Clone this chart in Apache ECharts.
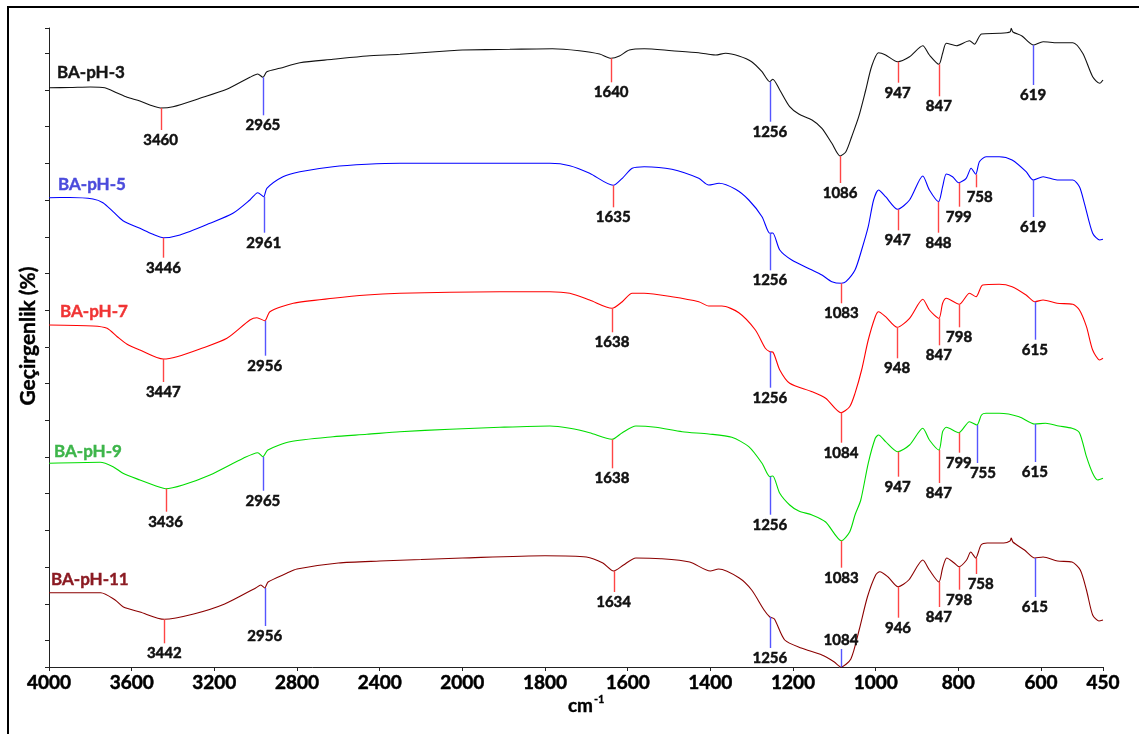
<!DOCTYPE html>
<html>
<head>
<meta charset="utf-8">
<title>FTIR – BA pH serisi</title>
<script src="https://cdn.jsdelivr.net/npm/echarts@6/dist/echarts.min.js"></script>
<style>
  html, body { margin: 0; padding: 0; background: #fff; }
  #chart { width: 1139px; height: 734px; }
</style>
</head>
<body>
<div id="chart"></div>
<script>
// ---------------------------------------------------------------------------
// Data: wavenumber (cm-1) and stacked transmittance (arbitrary offset units)
// ---------------------------------------------------------------------------
const xTickValues = [4000, 3600, 3200, 2800, 2400, 2000, 1800, 1600, 1400, 1200, 1000, 800, 600, 450];

const wn_pH3 = [4000,3900,3800,3730,3670,3622,3560,3512,3460,3400,3270,3140,3028,2990,2965,2946,2883,2786,2626,2462,
  2302,2060,2000,1885,1782,1717,1668,1640,1620,1596,1560,1493,1428,1400,1387,1363,1331,1300,1275,1256,
  1249,1232,1208,1186,1154,1130,1106,1086,1072,1058,1041,1024,1010,993,976,947,918,886,870,847,
  838,829,805,773,761,744,701,675,672,668,646,619,595,561,523,499,475,458,450];
const tr_pH3 = [579.3,579.5,580,579.3,574,569.7,566,562,559,560.3,568.7,577.7,589.7,593,589.7,595.3,598.7,604.3,607.7,611,
  612.7,616.3,617,617.7,618.3,616.3,613,608.7,611,617,618.3,616.3,614.3,612.5,612,613.7,611,605.3,595.3,585.3,
  587.7,577,560.3,553,547,538.7,523.7,511,515.3,530.3,550.3,577,600.3,614.3,612,605.3,610.3,621.3,612,602.7,
  613.7,623.7,621.3,626.3,622.7,633,633.7,635,638.7,635,631,622,625.3,624.3,624.3,613.7,590.3,583.7,587];

const wn_pH5 = [4000,3900,3787,3739,3690,3642,3560,3500,3446,3366,3221,3110,3028,2990,2961,2946,2868,2786,2626,2462,
  2302,2000,1788,1740,1692,1635,1613,1589,1560,1493,1428,1404,1379,1339,1307,1275,1256,1249,1232,1203,
  1154,1130,1106,1083,1072,1050,1034,1018,1005,993,976,947,918,886,870,848,838,829,814,799,
  781,769,758,749,733,701,670,636,619,595,561,523,507,495,475,458,450];
const tr_pH5 = [469.3,469.5,468,464.3,455.3,446.3,438.7,433,429.3,432,443.7,453.7,467,474.3,470.3,478.7,490.3,495.3,500.3,502.7,
  503.7,503.7,503.7,501.3,493.7,481.7,488.7,498.7,500.3,497.7,488.7,482,483.7,477.7,467,450.3,433.7,434,417,407,
  397,392,385.3,383.7,385.3,397,417,440.3,467,477,470.3,457.7,467,491,477,465.3,480.3,493,490.3,484.3,
  488.7,498.7,492.7,505.3,510.3,510.3,507,495.3,487,490.3,487,487,480.3,463.7,433.7,427,427.7];

const wn_pH7 = [4000,3787,3719,3670,3622,3560,3447,3381,3270,3139,3028,2994,2956,2931,2818,2626,2462,2302,2060,1909,
  1788,1740,1692,1638,1613,1589,1560,1493,1428,1404,1372,1331,1291,1267,1256,1249,1232,1208,1154,1121,
  1084,1063,1050,1034,1018,1001,993,976,948,918,886,870,847,838,829,798,773,757,741,701,
  670,636,615,595,561,523,507,490,475,458,450];
const tr_pH7 = [342,341,338.7,330.3,322.7,317,308,310.3,318,328.7,347,349.3,346.3,355.3,363.7,368.7,372,373.7,374.7,375.3,
  375.3,373.7,367,358.7,365.3,373.7,373.7,370.3,365.3,361,361,354.3,337,318.7,315.3,315,297,283.7,275.3,268.7,
  254.3,260.3,273.7,297,327,350.3,355.3,350.3,339.7,348.7,367.7,357,348.7,363.7,368.7,362.7,373.7,370.3,382,382.7,
  380.3,372,365.3,367,363.7,362.7,357,340.3,317,307,308.7];

const wn_pH9 = [4000,3753,3690,3642,3560,3463,3436,3352,3221,3060,2990,2965,2941,2834,2626,2462,2302,2060,1909,1788,
  1740,1692,1638,1613,1580,1532,1468,1404,1348,1307,1275,1256,1249,1232,1208,1186,1154,1121,1083,1063,
  1050,1036,1018,1001,993,976,947,918,886,870,847,838,829,799,773,755,744,733,701,653,
  615,589,557,525,507,490,475,463,450];
const tr_pH9 = [203.7,204.7,200.3,193.7,187,179.7,178.3,182,192,208.7,214.3,210.3,217,225.3,230.3,232.7,235.3,237.7,239.7,241,
  238.7,234.3,227.7,234.3,241,239.7,235.3,233,229.7,220.3,203.7,190.3,191,173.7,162,156,152,145,126.3,135,
  152,167,203.7,228.7,232,225.3,215.3,222,238.7,227,217,235.3,239.7,234.3,245.3,242,252,253.7,253.7,250.3,
  243,243.7,241,238.7,234.3,210.3,193.7,187,188.7];

const wn_pH11 = [4000,3750,3680,3640,3560,3442,3300,3150,3000,2975,2956,2940,2850,2800,2600,2400,2200,2000,1800,1700,
  1660,1634,1610,1580,1520,1450,1400,1380,1330,1300,1270,1256,1245,1220,1180,1130,1100,1084,1060,1040,
  1020,1000,990,970,946,920,886,870,847,838,828,810,798,780,770,758,745,730,690,675,
  672,668,640,615,595,560,525,505,490,475,460,450];
const tr_pH11 = [74.3,74.3,67,60,55,47.7,53,63,79,82,79,85,93.7,98,104,106,107.5,109,111.3,110,
  104,96,102,109,108.3,105,96,98,89,77,57,50,48,27,19,12,5,0,8,37,
  70,92,95.3,90,80.3,87,107,97,85,99,109,104,100.3,107,115,109,122,124,124,126,
  129,125,117,109,110,106,105,97,77,52,46,47];

// Labelled band positions (cm-1) for each spectrum
const peaks_pH3  = [3460, 2965, 1640, 1256, 1086, 947, 847, 619];
const peaks_pH5  = [3446, 2961, 1635, 1256, 1083, 947, 848, 799, 758, 619];
const peaks_pH7  = [3447, 2956, 1638, 1256, 1084, 948, 847, 798, 615];
const peaks_pH9  = [3436, 2965, 1638, 1256, 1083, 947, 847, 799, 755, 615];
const peaks_pH11 = [3442, 2956, 1634, 1256, 1084, 946, 847, 798, 758, 615];

// ---------------------------------------------------------------------------
// Styling / annotation layout
// ---------------------------------------------------------------------------
const FONT = 'Lato, "Open Sans", "DejaVu Sans", sans-serif';
const R = '#ff4545', B = '#5555ff';
// leader length in px (negative = drawn upwards), colour, label x-shift
const leaders_pH3  = [[22,R],[38,B],[24,R],[40,B],[27,R],[21,R],[32,R],[40,B]];
const leaders_pH5  = [[20,R],[36,B],[22,R],[37,B],[20,R],[21,R],[31,R],[24,R],[13,R,4],[37,B]];
const leaders_pH7  = [[23,R],[35,B],[24,R],[36,B],[30,R],[31,R],[27,R],[23,R],[38,B]];
const leaders_pH9  = [[23,R],[34,B],[29,R],[38,B],[27,R],[25,R],[33,R],[20,R],[38,B,6],[38,B]];
const leaders_pH11 = [[24,R],[38,B],[21,R],[31,B],[-18,B],[31,R],[25,R],[23,R],[16,R,5],[39,B]];

// Above 2000 cm-1 the wavenumber scale is compressed by half (common FTIR layout).
const fold = w => (w > 2000 ? 2000 + (w - 2000) / 2 : w);
const unfold = u => (u > 2000 ? 2000 + (u - 2000) * 2 : u);

function valueAt(wn, tr, w) {
  for (let i = 0; i < wn.length - 1; i++) {
    const a = wn[i], b = wn[i + 1];
    if (w <= a && w >= b) {
      const t = a === b ? 0 : (a - w) / (a - b);
      return tr[i] + t * (tr[i + 1] - tr[i]);
    }
  }
  return tr[tr.length - 1];
}

function spectrum(name, wn, tr, color) {
  return {
    name, type: 'line', data: wn.map((w, i) => [fold(w), tr[i]]),
    showSymbol: false, symbol: 'none', smooth: 0.25,
    lineStyle: { color, width: 1.1 }, z: 2, silent: true, animation: false
  };
}

// bold text with a hairline outline for a heavier face
function heavy(fill, w) {
  return { fill, stroke: fill, lineWidth: w || 0.45 };
}

function peakMarks(wn, tr, peaks, leaders) {
  return {
    type: 'custom', silent: true, z: 3, animation: false, clip: false,
    data: peaks.map(w => [fold(w), valueAt(wn, tr, w), w]),
    renderItem(params, api) {
      const [len, col, dx] = leaders[params.dataIndex];
      const p = api.coord([api.value(0), api.value(1)]);
      const x = Math.round(p[0]) + 0.5;
      const y2 = p[1] + len;
      const ly = len < 0 ? y2 - 9 : y2 + 10;
      return {
        type: 'group',
        children: [
          { type: 'line', shape: { x1: x, y1: p[1], x2: x, y2 }, style: { stroke: col, lineWidth: 1.4 } },
          { type: 'text', x: p[0] + (dx || 0), y: ly,
            style: Object.assign({ text: String(api.value(2)), font: 'bold 15px ' + FONT,
                     align: 'center', verticalAlign: 'middle', textAlign: 'center', textVerticalAlign: 'middle' },
                     heavy('#111', 0.5)) }
        ]
      };
    }
  };
}

const yTicks = [0];
for (let k = 0; k <= 16; k++) yTicks.push(+(26.5 + 36.7 * k).toFixed(1));
yTicks.push(639);

function label(text, x, y, color) {
  return { type: 'text', x, y, silent: true,
    style: Object.assign({ text, font: 'bold 17px ' + FONT, align: 'left', verticalAlign: 'middle',
             textAlign: 'left', textVerticalAlign: 'middle' }, heavy(color, 0.4)) };
}

const chart = echarts.init(document.getElementById('chart'), null, { renderer: 'canvas' });
chart.setOption({
  animation: false,
  backgroundColor: '#fff',
  grid: { left: 49, right: 36, top: 28, bottom: 67, outerBoundsMode: 'none', containLabel: false },
  xAxis: {
    type: 'value', inverse: true, min: 450, max: fold(4000),
    axisLine: { lineStyle: { color: '#222', width: 1 } },
    axisTick: { show: true, length: 4, customValues: xTickValues.map(fold), lineStyle: { color: '#222' } },
    axisLabel: { customValues: xTickValues.map(fold), formatter: v => String(Math.round(unfold(v))),
                 color: '#000', fontFamily: FONT, fontWeight: 'bold', fontSize: 19, margin: 6,
                 textBorderColor: '#000', textBorderWidth: 0.5 },
    splitLine: { show: false }
  },
  yAxis: {
    type: 'value', min: 0, max: 639,
    axisLine: { show: true, lineStyle: { color: '#222', width: 1 } },
    axisTick: { show: true, length: 4, customValues: yTicks, lineStyle: { color: '#222' } },
    axisLabel: { show: false },
    splitLine: { show: false }
  },
  series: [
    spectrum('BA-pH-3', wn_pH3, tr_pH3, '#111111'),
    spectrum('BA-pH-5', wn_pH5, tr_pH5, '#0000ff'),
    spectrum('BA-pH-7', wn_pH7, tr_pH7, '#ff0000'),
    spectrum('BA-pH-9', wn_pH9, tr_pH9, '#00dd00'),
    spectrum('BA-pH-11', wn_pH11, tr_pH11, '#8b0000'),
    peakMarks(wn_pH3, tr_pH3, peaks_pH3, leaders_pH3),
    peakMarks(wn_pH5, tr_pH5, peaks_pH5, leaders_pH5),
    peakMarks(wn_pH7, tr_pH7, peaks_pH7, leaders_pH7),
    peakMarks(wn_pH9, tr_pH9, peaks_pH9, leaders_pH9),
    peakMarks(wn_pH11, tr_pH11, peaks_pH11, leaders_pH11)
  ],
  graphic: [
    { type: 'rect', silent: true, shape: { x: 8, y: 7, width: 1200, height: 800 },
      style: { fill: 'none', stroke: '#000', lineWidth: 2 } },
    label('BA-pH-3', 57, 73, '#151515'),
    label('BA-pH-5', 58, 185, '#4b4bdc'),
    label('BA-pH-7', 60, 312, '#f03434'),
    label('BA-pH-9', 54, 452, '#3db54a'),
    label('BA-pH-11', 51, 580, '#8b1a22'),
    { type: 'text', x: 28, y: 336, rotation: Math.PI / 2, silent: true,
      style: Object.assign({ text: 'Geçirgenlik (%)', font: 'bold 21px ' + FONT,
               align: 'center', verticalAlign: 'middle', textAlign: 'center', textVerticalAlign: 'middle' },
               heavy('#000', 0.4)) },
    { type: 'text', x: 593, y: 706, silent: true,
      style: Object.assign({ text: 'cm', font: 'bold 19px ' + FONT,
               align: 'right', verticalAlign: 'middle', textAlign: 'right', textVerticalAlign: 'middle' },
               heavy('#000', 0.4)) },
    { type: 'text', x: 594, y: 699, silent: true,
      style: Object.assign({ text: '-1', font: 'bold 11px ' + FONT,
               align: 'left', verticalAlign: 'middle', textAlign: 'left', textVerticalAlign: 'middle' },
               heavy('#000', 0.3)) }
  ]
});
</script>
</body>
</html>
